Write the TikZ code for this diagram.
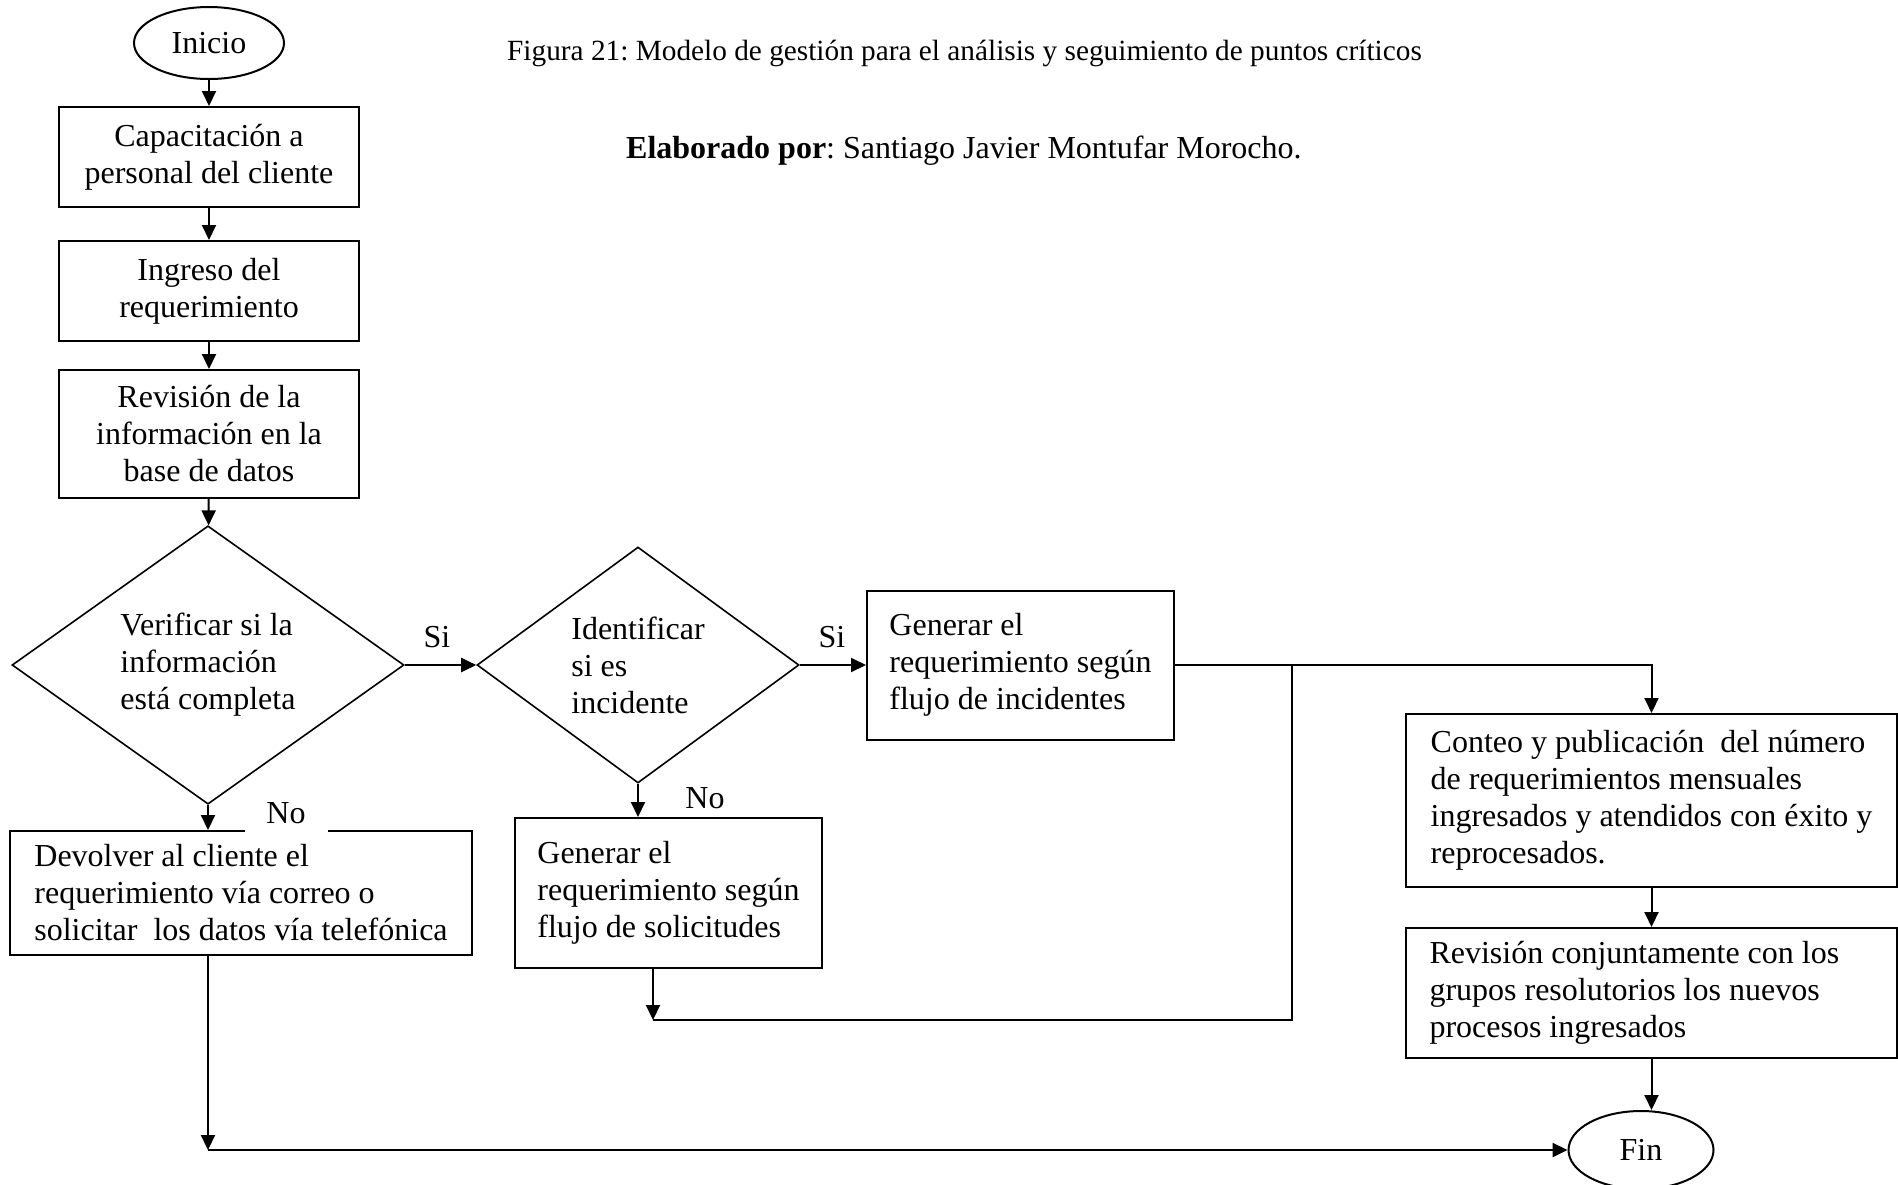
\documentclass[tikz,border=0pt]{standalone}
\usepackage{fontspec}
\setmainfont{Liberation Serif}
\usetikzlibrary{shapes.geometric,arrows.meta}
\frenchspacing
\begin{document}
\begin{tikzpicture}[x=1pt,y=-1pt,
  txt/.style={font=\fontsize{32}{37}\selectfont},
  procbox/.style={draw, line width=2pt, rectangle, inner sep=0pt, txt, align=center},
  leftbox/.style={procbox, align=left},
  decision/.style={draw, line width=1.6pt, diamond, inner sep=0pt, txt, align=left},
  terminal/.style={draw, line width=2pt, ellipse, inner sep=0pt, txt},
  arr/.style={line width=2pt, -{Triangle[length=15pt 0 0,width=14pt 0 0]}},
  link/.style={line width=2pt},
  lbl/.style={txt, inner sep=0pt}]

\useasboundingbox (0,0) rectangle (1898,1184);

% title lines
\node[anchor=west, inner sep=0pt, font=\fontsize{29.3}{34}\selectfont] (titulo) at (507,53)
  {Figura 21: Modelo de gestión para el análisis y seguimiento de puntos críticos};
\node[anchor=west, inner sep=0pt, txt] (autor) at (626,151)
  {\textbf{Elaborado por}: Santiago Javier Montufar Morocho.};

% main column
\node[terminal, minimum width=150pt, minimum height=72pt] (inicio) at (209,43) {Inicio};
\node[procbox, minimum width=300pt, minimum height=100pt] (cap) at (209,157)
  {Capacitación a\\personal del cliente};
\node[procbox, minimum width=300pt, minimum height=100pt] (ing) at (209,291)
  {Ingreso del\\requerimiento};
\node[procbox, minimum width=300pt, minimum height=128pt] (rev) at (209,434)
  {Revisión de la\\información en la\\base de datos};
\node[decision, minimum width=392pt, minimum height=270pt] (ver) at (208,665)
  {Verificar si la\\información\\está completa};
\node[leftbox, minimum width=462pt, minimum height=124pt] (dev) at (241,893)
  {Devolver al cliente el\\requerimiento vía correo o\\solicitar\ \ los datos vía telefónica};

% second decision
\node[decision, minimum width=322pt, minimum height=236pt] (ide) at (638,665)
  {Identificar\\si es\\incidente};
\node[leftbox, minimum width=307pt, minimum height=149pt] (inc) at (1020.5,665)
  {Generar el\\requerimiento según\\flujo de incidentes};
\node[leftbox, minimum width=307pt, minimum height=150pt] (sol) at (668.5,893)
  {Generar el\\requerimiento según\\flujo de solicitudes};

% right column
\node[leftbox, minimum width=491pt, minimum height=173pt] (con) at (1651.5,800.5)
  {Conteo y publicación\ \ del número\\de requerimientos mensuales\\ingresados y atendidos con éxito y\\reprocesados.};
\node[leftbox, minimum width=491pt, minimum height=130pt] (rcj) at (1651.5,993)
  {\makebox[444pt][l]{Revisión conjuntamente con los}\\grupos resolutorios los nuevos\\procesos ingresados};
\node[terminal, minimum width=145pt, minimum height=78pt] (fin) at (1641,1150) {Fin};

% branch labels
\node[lbl] (si1) at (437,637) {Si};
\node[lbl] (si2) at (832,637) {Si};
\node[lbl, fill=white, minimum width=83pt, minimum height=38pt] (no1) at (286,813) {No};
\node[lbl] (no2) at (705,798) {No};

% connectors
\draw[arr] (inicio) -- (cap);
\draw[arr] (cap) -- (ing);
\draw[arr] (ing) -- (rev);
\draw[arr] (rev) -- (ver);
\draw[arr] (ver) -- (ide);
\draw[arr] (ver.south) -- (ver.south |- dev.north);
\draw[arr] (ide) -- (inc);
\draw[arr] (ide.south) -- (ide.south |- sol.north);

\coordinate (jsol) at (653,1020);
\coordinate (jmid) at (1292,1020);
\coordinate (jtop) at (1292,665);
\draw[arr] (jsol |- sol.south) -- (jsol);
\draw[link] (jsol) -- (jmid) -- (jtop);

\draw[arr] (inc.east) -| (con.north);
\draw[arr] (con) -- (rcj);
\draw[arr] (rcj.south) -- (rcj.south |- fin.north);

\coordinate (jdev) at (208,1150);
\draw[arr] (jdev |- dev.south) -- (jdev);
\draw[arr, line width=2.4pt] (jdev) -- (fin.west);
\end{tikzpicture}
\end{document}
